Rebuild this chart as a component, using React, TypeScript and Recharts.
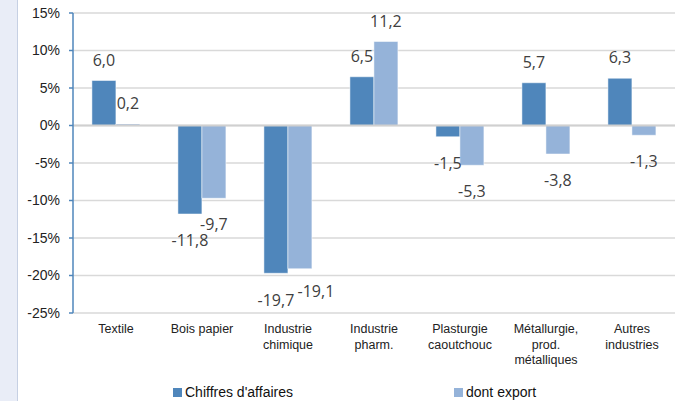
import React from 'react'
import {
  BarChart, Bar, XAxis, YAxis, CartesianGrid, ReferenceLine, LabelList, Legend,
} from 'recharts'

const categories = [
  'Textile',
  'Bois papier',
  'Industrie\nchimique',
  'Industrie\npharm.',
  'Plasturgie\ncaoutchouc',
  'Métallurgie,\nprod.\nmétalliques',
  'Autres\nindustries',
]
const chiffresAffaires = [6.0, -11.8, -19.7, 6.5, -1.5, 5.7, 6.3]
const dontExport = [0.2, -9.7, -19.1, 11.2, -5.3, -3.8, -1.3]
const yTicks = [15, 10, 5, 0, -5, -10, -15, -20, -25]

const DARK = '#4f86bb'
const LIGHT = '#95b3d9'

const data = categories.map((c, i) => ({ name: c, ca: chiffresAffaires[i], exp: dontExport[i] }))

const fmt = (v: number) => v.toFixed(1).replace('.', ',')

const CatTick = (props: any) => {
  const { x, y, payload } = props
  const lines = String(payload.value).split('\n')
  return (
    <text x={x} y={y} textAnchor="middle" fill="#222" fontSize={12.5} fontFamily="'Liberation Sans', Arial, sans-serif">
      {lines.map((l, i) => (
        <tspan key={i} x={x} dy={i === 0 ? 12 : 15.5}>{l}</tspan>
      ))}
    </text>
  )
}

// labels sit past the bar end; when the two labels of a group would collide, the second one is nudged right and up
const ValueLabel = (props: any) => {
  const { x, y, width, height, value, index, second } = props
  const top = Math.min(y, y + height)
  const bottom = Math.max(y, y + height)
  let cx = x + width / 2
  let cy = value >= 0 ? top - 21 : bottom + 26
  const other = second ? chiffresAffaires[index] : dontExport[index]
  const close = Math.sign(other) === Math.sign(value) && value < 0 && Math.abs(other - value) < 2
  if (close) {
    if (second) { cx += 16; cy -= 4 } else { cy += 1 }
  }
  return (
    <text x={cx} y={cy} textAnchor="middle" dominantBaseline="central"
      fill="#404040" fontSize={16} fontFamily="'Open Sans', sans-serif">
      {fmt(value)}
    </text>
  )
}

const LegendBox = () => (
  <div style={{ position: 'relative', width: 676, height: 18, fontFamily: "'Liberation Sans', Arial, sans-serif", fontSize: 14, color: '#111' }}>
    <div style={{ position: 'absolute', left: 173, top: 4, width: 9, height: 9, background: DARK }} />
    <div style={{ position: 'absolute', left: 185, top: 0, lineHeight: '17px' }}>Chiffres d'affaires</div>
    <div style={{ position: 'absolute', left: 454, top: 4, width: 9, height: 9, background: LIGHT }} />
    <div style={{ position: 'absolute', left: 466, top: 0, lineHeight: '17px' }}>dont export</div>
  </div>
)

export default function App() {
  return (
    <div style={{ position: 'absolute', left: 0, top: 0, width: 676, height: 401, background: '#fff', overflow: 'hidden' }}>
      <div style={{ position: 'absolute', left: 0, top: 0, width: 17, height: 401, background: '#e9edf7', borderRight: '1px solid #c6d0e3' }} />
      <BarChart width={676} height={401} data={data} margin={{ top: 13, right: 1, bottom: 10, left: 13 }}
        barGap={0} barCategoryGap="22%" style={{ position: 'absolute', left: 0, top: 0 }}>
        <CartesianGrid vertical={false} stroke="#d9d9d9" strokeWidth={1.5} />
        <XAxis dataKey="name" axisLine={false} tickLine={false} height={60} interval={0} tick={<CatTick />} />
        <YAxis domain={[-25, 15]} ticks={yTicks} width={60} interval={0}
          tickFormatter={(v: number) => `${v}%`}
          axisLine={{ stroke: '#4f86bb', strokeWidth: 1.5 }}
          tickLine={{ stroke: '#4f86bb', strokeWidth: 1.5 }} tickSize={4} tickMargin={9}
          tick={{ fill: '#222', fontSize: 14, fontFamily: "'Liberation Sans', Arial, sans-serif" }} />
        <ReferenceLine y={0} stroke="#d0d0d0" strokeWidth={2} />
        <Bar dataKey="ca" fill={DARK} stroke="#fff" strokeWidth={0.5} isAnimationActive={false}>
          <LabelList dataKey="ca" content={<ValueLabel />} />
        </Bar>
        <Bar dataKey="exp" fill={LIGHT} stroke="#fff" strokeWidth={0.5} isAnimationActive={false}>
          <LabelList dataKey="exp" content={<ValueLabel second />} />
        </Bar>
        <Legend verticalAlign="bottom" content={<LegendBox />}
          wrapperStyle={{ position: 'absolute', left: 0, top: 384, width: 676, height: 18 }} />
      </BarChart>
    </div>
  )
}
